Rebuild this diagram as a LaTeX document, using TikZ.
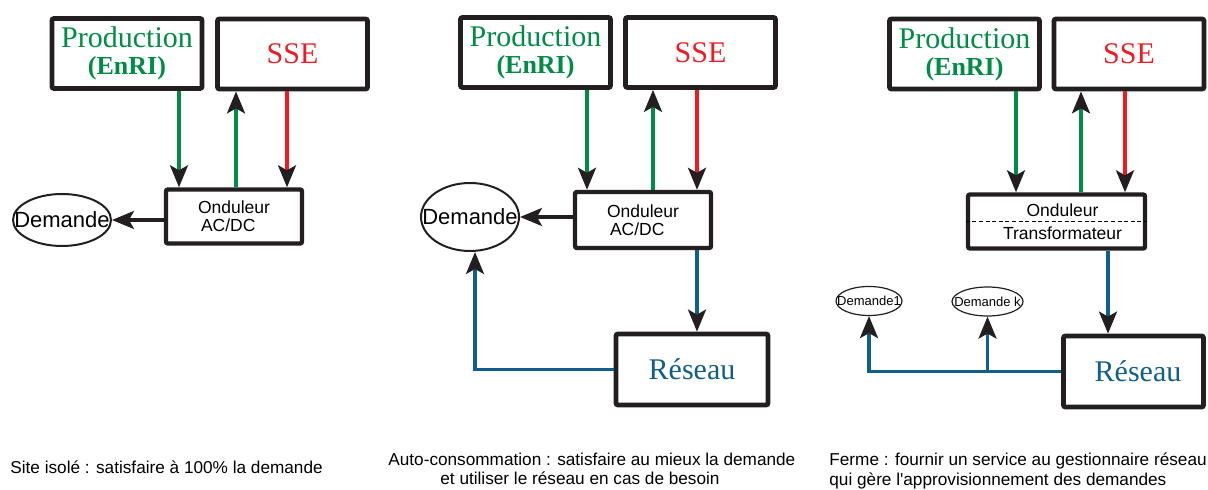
\documentclass[tikz,border=0pt]{standalone}
\usepackage{fontspec}
\setmainfont{Liberation Sans}
\newfontfamily\timesfont{Liberation Serif}
\usetikzlibrary{arrows.meta,shapes.geometric,positioning}
\definecolor{boxblack}{RGB}{35,31,32}
\definecolor{prodgreen}{RGB}{0,140,69}
\definecolor{ssered}{RGB}{237,28,36}
\definecolor{gridblue}{RGB}{16,94,138}
\tikzset{
    >={Stealth[length=11pt,width=9pt,inset=2.5pt,color=boxblack]},
    source/.style={
    rectangle,rounded corners=1pt,draw=boxblack,line width=2.4pt,
    minimum width=75pt,minimum height=35pt,inner sep=0pt
    },
    prodtext/.style={
    text=prodgreen,align=center,font=\timesfont\fontsize{15}{15}\selectfont
    },
    ssetext/.style={
    text=ssered,font=\timesfont\fontsize{15}{15}\selectfont
    },
    conv/.style={
    rectangle,rounded corners=1pt,draw=boxblack,line width=2.2pt,
    minimum width=68pt,minimum height=27pt,inner sep=0pt,
    font=\fontsize{8.75}{9}\selectfont
    },
    reseau/.style={
    rectangle,rounded corners=1pt,draw=boxblack,line width=2.4pt,
    minimum height=35.5pt,inner sep=0pt,
    text=gridblue,font=\timesfont\fontsize{15}{15}\selectfont
    },
    demande/.style={
    ellipse,draw=boxblack,line width=1pt,inner sep=0pt
    },
    gflow/.style={->,draw=prodgreen,line width=1.6pt},
    rflow/.style={->,draw=ssered,line width=1.6pt},
    bflow/.style={->,draw=gridblue,line width=1.6pt},
    kflow/.style={->,draw=boxblack,line width=1.6pt},
    caption/.style={
    font=\fontsize{8.6}{9.6}\selectfont,inner sep=0pt
    },
}
\begin{document}
\begin{tikzpicture}[x=0.5pt,y=-0.5pt]
   \useasboundingbox (0,0) rectangle (1208,490);
   % site isole
   \node[source,prodtext] (prodA) at (127,53.5) {Production\\[-1.5pt]{\bfseries\fontsize{13}{13}\selectfont(EnRI)}};
   \node[source,ssetext] (sseA) at (292.5,54) {SSE};
   \node[conv,align=left] (ondA) at (234,216.5) {Onduleur\\\hspace*{1.5pt}AC/DC};
   \node[demande,minimum width=49pt,minimum height=26pt,font=\fontsize{11}{11}\selectfont] (demA) at (62,220) {\makebox[0pt]{Demande}};

  \path
    (prodA.south -| 179,0) edge[gflow] (ondA.north -| 179,0)
    (ondA.north -| 236,0) edge[gflow] (sseA.south -| 236,0)
    (sseA.south -| 287,0) edge[rflow] (ondA.north -| 287,0)
    (ondA.west |- demA.east) edge[kflow] (demA.east);

   % auto-consommation
   \node[source,prodtext] (prodB) at (535.5,52.5) {Production\\[-1.5pt]{\bfseries\fontsize{13}{13}\selectfont(EnRI)}};
   \node[source,ssetext] (sseB) at (700.5,52.5) {SSE};
   \node[conv,align=left,minimum height=28pt] (ondB) at (643,220) {Onduleur\\\hspace*{1.5pt}AC/DC};
   \node[demande,minimum width=49pt,minimum height=34pt,font=\fontsize{11}{11}\selectfont] (demB) at (470,217) {\makebox[0pt]{Demande}};
   \node[reseau,minimum width=76pt] (resB) at (692,369.5) {Réseau};

  \path
    (prodB.south -| 587,0) edge[gflow] (ondB.north -| 587,0)
    (ondB.north -| 653,0) edge[gflow] (sseB.south -| 653,0)
    (sseB.south -| 697,0) edge[rflow] (ondB.north -| 697,0)
    (ondB.west |- demB.east) edge[kflow] (demB.east)
    (ondB.south -| 697,0) edge[bflow] (resB.north -| 697,0);
  \draw[bflow] (resB.west) -| ([xshift=2.5pt]demB.south);

   % ferme
   \node[source,prodtext] (prodC) at (964.5,54) {Production\\[-1.5pt]{\bfseries\fontsize{13}{13}\selectfont(EnRI)}};
   \node[source,ssetext] (sseC) at (1129,54) {SSE};
   \node[conv,minimum width=88.5pt,align=center] (ondC) at (1056.5,221.5) {\hspace*{6pt}Onduleur\\[2.5pt]\hspace*{6pt}Transformateur};
   \draw[dashed,line width=0.6pt,dash pattern=on 2pt off 1.3pt] (ondC.west) -- (ondC.east);
   \node[reseau,minimum width=70pt] (resC) at (1133.5,371.5) {\hspace*{4.5pt}Réseau};
   \node[demande,line width=0.6pt,minimum width=33pt,minimum height=14.5pt,font=\fontsize{6.5}{6.5}\selectfont] (dem1) at (869,301) {\makebox[0pt]{Demande1}};
   \node[demande,line width=0.6pt,minimum width=35.5pt,minimum height=14.5pt,font=\fontsize{6.5}{6.5}\selectfont] (demk) at (987.5,301.5) {\makebox[0pt]{Demande k}};

  \path
    (prodC.south -| 1016,0) edge[gflow] (ondC.north -| 1016,0)
    (ondC.north -| 1081,0) edge[gflow] (sseC.south -| 1081,0)
    (sseC.south -| 1125,0) edge[rflow] (ondC.north -| 1125,0)
    (ondC.south -| 1108,0) edge[bflow] (resC.north -| 1108,0)
    (resC.west -| demk.south) edge[bflow] (demk.south);
  \draw[bflow] (resC.west) -| (dem1.south);

   % legendes
   \node[caption,anchor=west] (capA) at (10,467) {Site isolé : satisfaire à 100\% la demande};
   \node[caption,anchor=west] (capB1) at (388,459) {Auto-consommation : satisfaire au mieux la demande};
   \node[caption,anchor=west] (capB2) at (440,478.5) {et utiliser le réseau en cas de besoin};
   \node[caption,anchor=west] (capC1) at (829,461) {Ferme : fournir un service au gestionnaire réseau};
   \node[caption,anchor=west] (capC2) at (829,481) {qui gère l\textquotesingle approvisionnement des demandes};
\end{tikzpicture}
\end{document}
